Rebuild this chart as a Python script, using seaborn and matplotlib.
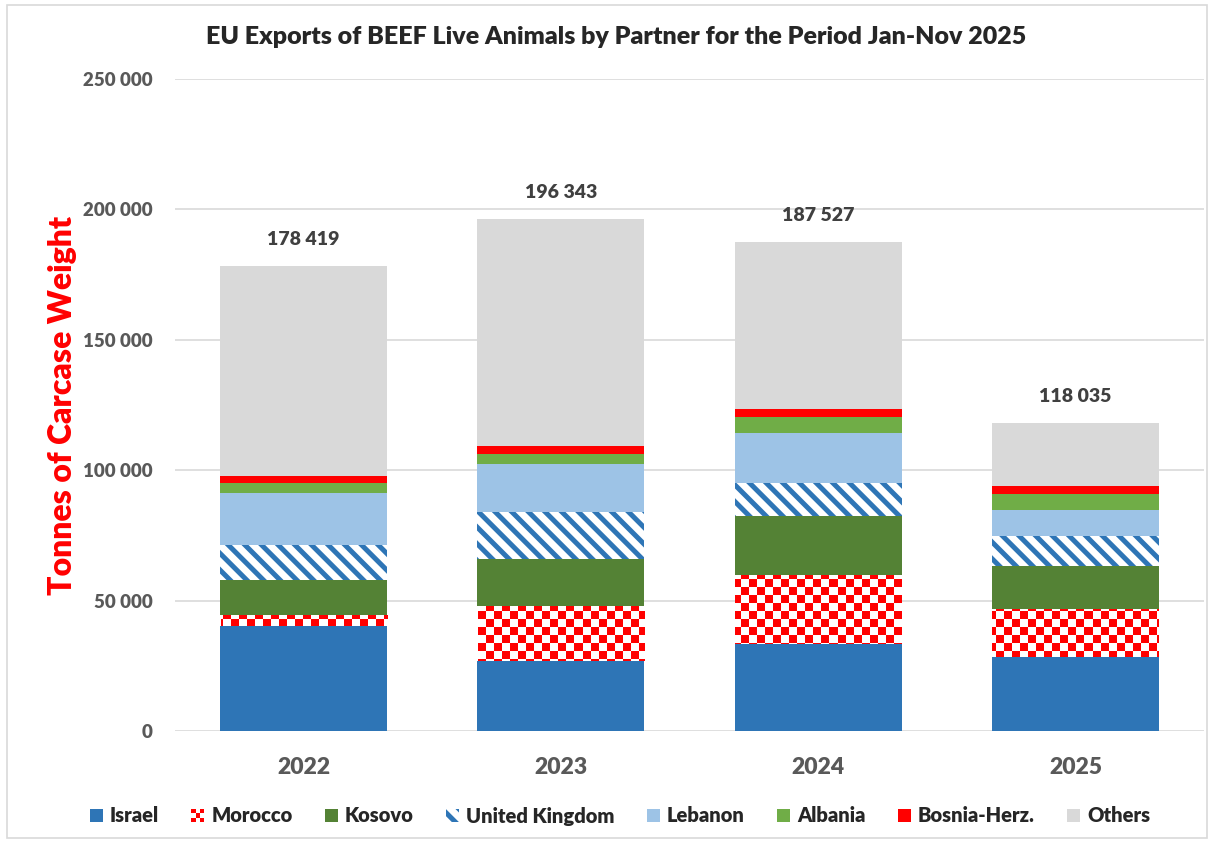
import numpy as np
import matplotlib
matplotlib.use("Agg")
import matplotlib.pyplot as plt
import seaborn as sns
from matplotlib.colors import ListedColormap
from matplotlib.legend_handler import HandlerBase
from matplotlib.patches import Patch, Rectangle
from matplotlib.ticker import FuncFormatter, MultipleLocator

# data (tonnes carcase weight)
years = ["2022", "2023", "2024", "2025"]
partners = ["Israel", "Morocco", "Kosovo", "United Kingdom",
            "Lebanon", "Albania", "Bosnia-Herz.", "Others"]
israel = [40260, 26840, 33240, 28260]
morocco = [4100, 21240, 26720, 18400]
kosovo = [13690, 17750, 22470, 16600]
united_kingdom = [13260, 18020, 12540, 11500]
lebanon = [19940, 18400, 19280, 10120]
albania = [3720, 3840, 6020, 5990]
bosnia = [2680, 3060, 3070, 3220]
totals = [178419, 196343, 187527, 118035]
others = [t - sum(v) for t, v in zip(totals, zip(israel, morocco, kosovo, united_kingdom,
                                                   lebanon, albania, bosnia))]

series = [israel, morocco, kosovo, united_kingdom, lebanon, albania, bosnia, others]
colors = ["#2E75B6", "#FF0000", "#548235", "#2E75B6",
          "#9DC3E6", "#70AD47", "#FF0000", "#D9D9D9"]

WEIGHT = "heavy"

sns.set_style("white")
plt.rcParams["font.family"] = ["Lato", "DejaVu Sans"]
plt.rcParams["font.weight"] = WEIGHT
plt.rcParams["hatch.linewidth"] = 3.6

fig = plt.figure(figsize=(12.14, 8.43), dpi=100)
ax = fig.add_axes([175 / 1214, 112 / 843, 1029 / 1214, 652 / 843])

# stacked bars: draw cumulative heights from the top layer down
cum = np.cumsum(np.array(series), axis=0)
bars = {}
for i in range(len(series) - 1, -1, -1):
    name = partners[i]
    if name == "United Kingdom":
        kw = dict(color="white", edgecolor=colors[i], linewidth=0, hatch="\\\\")
    elif name == "Morocco":
        kw = dict(color="white", edgecolor="none", linewidth=0)
    else:
        kw = dict(color=colors[i], edgecolor="none", linewidth=0)
    sns.barplot(x=years, y=cum[i], saturation=1, width=0.65, ax=ax,
                zorder=2 + (len(series) - i), **kw)
    bars[name] = ax.containers[-1]

# red/white checkerboard for Morocco, clipped to the Morocco segment only
checker = np.indices((82, 129)).sum(axis=0) % 2
for bar, low in zip(bars["Morocco"], bars["Israel"]):
    im = ax.imshow(checker, extent=(0, 1, 0, 1), transform=ax.transAxes,
                   cmap=ListedColormap(["white", "#FF0000"]), aspect="auto",
                   interpolation="nearest", zorder=bar.get_zorder() + 0.5)
    seg = Rectangle((bar.get_x() + 0.002, low.get_height()), bar.get_width() - 0.004,
                    bar.get_height() - low.get_height(), transform=ax.transData)
    im.set_clip_path(seg)

ax.set_xlim(-0.5, 3.5)
ax.set_ylim(0, 250000)
ax.yaxis.set_major_locator(MultipleLocator(50000))
ax.yaxis.set_major_formatter(FuncFormatter(lambda v, p: f"{int(v):,}".replace(",", " ")))
ax.grid(axis="y", color="#D9D9D9", linewidth=1.2)
ax.set_axisbelow(True)
sns.despine(ax=ax, left=True, bottom=True)
ax.tick_params(axis="both", length=0)
ax.tick_params(axis="y", labelsize=13.5, labelcolor="#595959", pad=16)
ax.tick_params(axis="x", labelsize=16.5, labelcolor="#595959", pad=19)
for lab in ax.get_xticklabels() + ax.get_yticklabels():
    lab.set_fontweight(WEIGHT)

ax.set_ylabel("Tonnes of Carcase Weight", color="#FF0000", fontsize=23,
              fontweight=WEIGHT, va="center")
ax.yaxis.set_label_coords(-0.109, 0.5)

# totals above the bars
ax.bar_label(bars["Others"], labels=[f"{t:,}".replace(",", " ") for t in totals],
             padding=13, fontsize=14, fontweight=WEIGHT, color="#404040")

fig.suptitle("EU Exports of BEEF Live Animals by Partner for the Period Jan-Nov 2025",
             x=616 / 1214, y=1 - 37 / 843, va="center", fontsize=18, fontweight=WEIGHT)


class CheckerHandler(HandlerBase):
    def create_artists(self, legend, orig_handle, xdescent, ydescent,
                       width, height, fontsize, trans):
        n = 3
        w, h = width / n, height / n
        cells = []
        for a in range(n):
            for b in range(n):
                c = "#FF0000" if (a + b) % 2 == 0 else "white"
                cells.append(Rectangle((-xdescent + a * w, -ydescent + b * h), w, h,
                                       facecolor=c, edgecolor="none", transform=trans))
        return cells


handles = []
for name, c in zip(partners, colors):
    if name == "United Kingdom":
        handles.append(Patch(facecolor="white", edgecolor=c, linewidth=0, hatch="\\\\"))
    else:
        handles.append(Patch(facecolor=c, edgecolor="none"))
handler_map = {handles[1]: CheckerHandler()}
fig.legend(handles, partners, handler_map=handler_map, loc="center",
           bbox_to_anchor=(620 / 1214, 1 - 816 / 843), ncol=8, frameon=False,
           handlelength=0.65, handleheight=0.65, handletextpad=0.35,
           columnspacing=1.6, prop={"weight": WEIGHT, "size": 14.5})

fig.patches.append(Rectangle((7 / 1214, 5 / 843), 1200 / 1214, 833 / 843,
                             transform=fig.transFigure, fill=False,
                             edgecolor="#D9D9D9", linewidth=1.2))

fig.savefig("out.png", dpi=100)
